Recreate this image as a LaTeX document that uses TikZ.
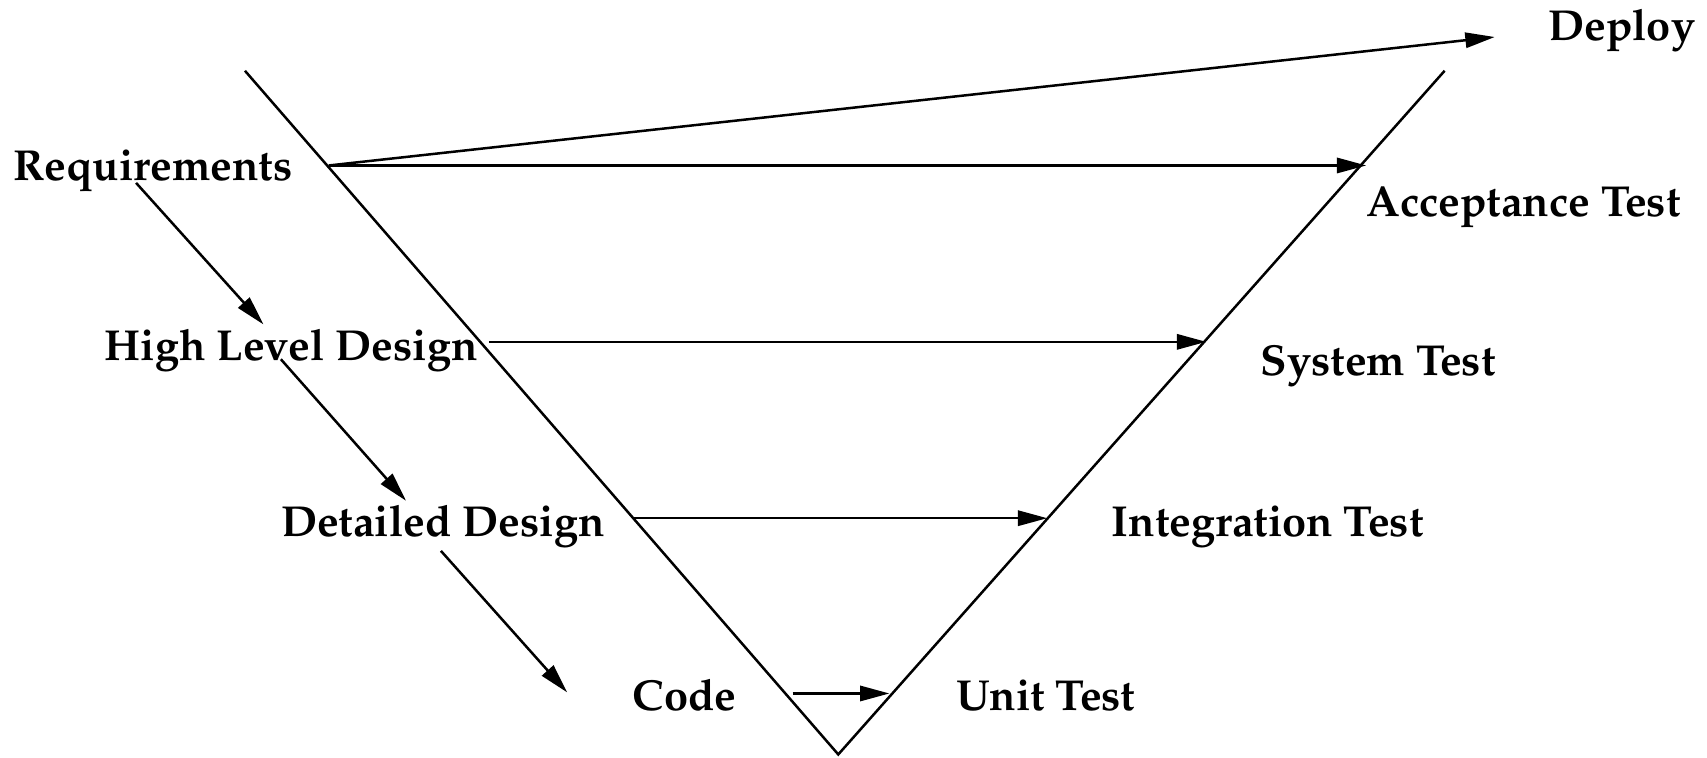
\documentclass[tikz,border=0pt]{standalone}
\usepackage[T1]{fontenc}
\usepackage{mathpazo}
\usetikzlibrary{arrows.meta}
\tikzset{
  lbl/.style={anchor=base west,inner sep=0pt,font=\fontsize{39.8}{46}\selectfont\bfseries},
  vline/.style={line width=2.3pt},
  arr/.style={line width=2.3pt,-{Triangle[length=27pt,width=14pt]}},
}
\begin{document}
\begin{tikzpicture}[x=1pt,y=-1pt]
\useasboundingbox (0,0) rectangle (1568,696);
% V shape
\coordinate (ltop) at (225,65);
\coordinate (bot) at (770,693);
\coordinate (rtop) at (1327,65);
\draw[vline] (ltop) -- (bot) -- (rtop);
% labels
\node[lbl] (req) at (12,166) {Requirements};
\node[lbl] (hld) at (96,331) {High Level Design};
\node[lbl] (dd) at (258,493) {Detailed Design};
\node[lbl] (code) at (581,653) {Code};
\node[lbl] (ut) at (878,653) {Unit Test};
\node[lbl] (it) at (1021,493) {Integration Test};
\node[lbl] (st) at (1158,345) {System Test};
\node[lbl] (at) at (1255,199) {Acceptance Test};
\node[lbl] (dep) at (1422,37) {Deploy};
% connector endpoints
\coordinate (rq0) at (302,152);
\coordinate (dep0) at (1373,34);
\coordinate (at0) at (1255,152);
\coordinate (h0) at (449,314);
\coordinate (st0) at (1108,314);
\coordinate (d0) at (582,476);
\coordinate (it0) at (962,476);
\coordinate (c0) at (728,637);
\coordinate (ut0) at (817,637);
\coordinate (rqd) at (125,168);
\coordinate (hldu) at (242,298);
\coordinate (hldd) at (258,330);
\coordinate (ddu) at (373,460);
\coordinate (ddd) at (405,506);
\coordinate (codeu) at (521,636);
% arrows
\draw[arr] (rq0) -- (dep0);
\draw[arr] (rq0) -- (at0);
\draw[arr] (h0) -- (st0);
\draw[arr] (d0) -- (it0);
\draw[arr] (c0) -- (ut0);
\draw[arr] (rqd) -- (hldu);
\draw[arr] (hldd) -- (ddu);
\draw[arr] (ddd) -- (codeu);
\end{tikzpicture}
\end{document}
